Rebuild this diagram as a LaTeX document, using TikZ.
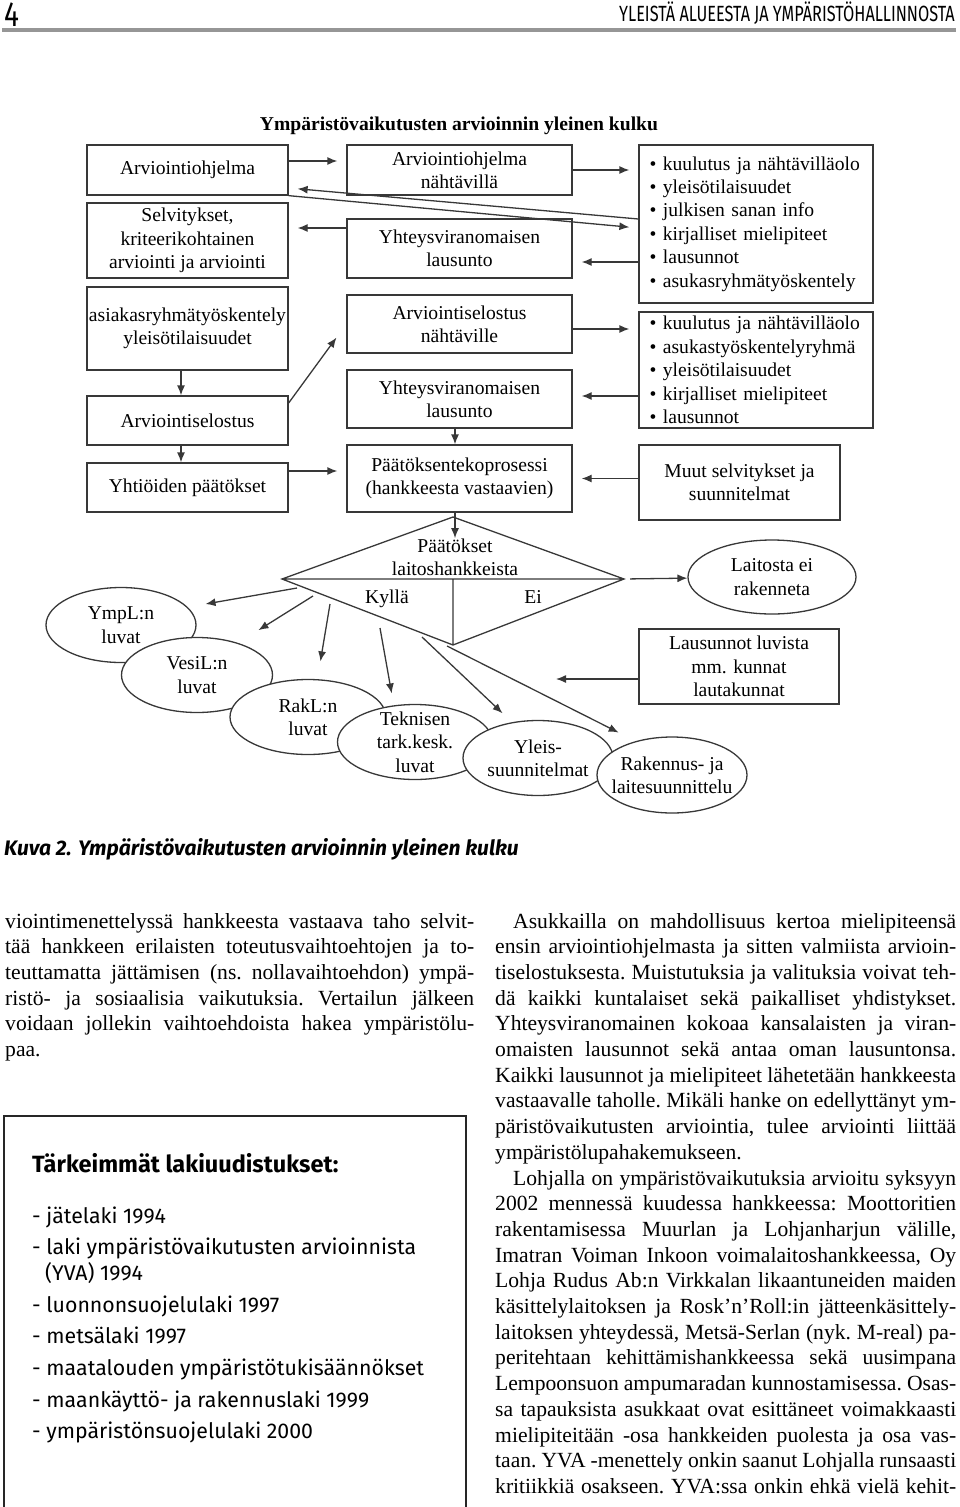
\documentclass[tikz,border=0pt]{standalone}
\usepackage{fontspec}
\setmainfont{Liberation Serif}
\setsansfont{Fira Sans}
\usepackage{graphicx}
\usetikzlibrary{arrows.meta,calc,shapes.geometric,positioning}
\definecolor{linecol}{gray}{0.22}
\definecolor{rulecol}{RGB}{150,150,150}
\newcommand\diagfont{\fontsize{19.6}{23.4}\selectfont}
\newcommand\bodyfont{\fontsize{21.6}{25.7}\selectfont\frenchspacing}
\newcommand\jline[1]{\hbox to\linewidth{#1}}
\tikzset{
  box/.style={draw=linecol, line width=1.3pt, rectangle, inner sep=0pt, align=center, font=\diagfont},
  oval/.style={draw=linecol, line width=1.3pt, ellipse, fill=white, inner sep=0pt},
  arr/.style={draw=linecol, line width=1.3pt, -{Latex[length=10pt,width=8pt]}},
  lbl/.style={inner sep=0pt, align=center, font=\diagfont},
}
\begin{document}
\begin{tikzpicture}[x=1pt,y=-1pt]
\useasboundingbox (0,0) rectangle (960,1507);

% page header
\node[anchor=base west, inner sep=0pt, font=\sffamily] (pagenum) at (4,26) {\scalebox{0.8}[1]{\fontsize{35}{35}\selectfont 4}};
\node[anchor=base east, inner sep=0pt, font=\sffamily] (runhead) at (955,21) {\scalebox{0.74}[1]{\fontsize{22}{22}\selectfont YLEISTÄ ALUEESTA JA YMPÄRISTÖHALLINNOSTA}};
\coordinate (ruleL) at (2,30);
\coordinate (ruleR) at (956,30);
\draw[draw=rulecol, line width=4pt] (ruleL) -- (ruleR);

% diagram
\node[lbl, font=\diagfont\bfseries] (title) at (459,126) {Ympäristövaikutusten arvioinnin yleinen kulku};

\node[box, minimum width=201pt, minimum height=50pt] (ohj) at (187.5,170) {Arviointiohjelma};
\node[box, minimum width=201pt, minimum height=75pt] (selv) at (187.5,240.5) {Selvitykset,\\kriteerikohtainen\\arviointi ja arviointi};
\node[box, minimum width=201pt, minimum height=83pt] (asiak) at (187.5,328.5) {asiakasryhmätyöskentely\\yleisötilaisuudet};
\node[box, minimum width=201pt, minimum height=49pt] (selos) at (187.5,420.5) {Arviointiselostus};
\node[box, minimum width=201pt, minimum height=49pt] (yhtio) at (187.5,487.5) {Yhtiöiden päätökset};

\node[box, minimum width=225pt, minimum height=50pt] (ohjnah) at (459.5,170) {Arviointiohjelma\\nähtävillä};
\node[box, minimum width=225pt, minimum height=59pt] (yhtA) at (459.5,248.5) {Yhteysviranomaisen\\lausunto};
\node[box, minimum width=225pt, minimum height=58pt] (selnah) at (459.5,324) {Arviointiselostus\\nähtäville};
\node[box, minimum width=225pt, minimum height=58pt] (yhtB) at (459.5,399) {Yhteysviranomaisen\\lausunto};
\node[box, minimum width=225pt, minimum height=67pt] (paatos) at (459.5,478.5) {Päätöksentekoprosessi\\(hankkeesta vastaavien)};

\node[box, minimum width=234pt, minimum height=158pt, text width=213pt, align=left] (osall1) at (756,224) {• kuulutus ja nähtävilläolo\\• yleisötilaisuudet\\• julkisen sanan info\\• kirjalliset mielipiteet\\• lausunnot\\• asukasryhmätyöskentely};
\node[box, minimum width=234pt, minimum height=116pt, text width=213pt, align=left] (osall2) at (756,370) {• kuulutus ja nähtävilläolo\\• asukastyöskentelyryhmä\\• yleisötilaisuudet\\• kirjalliset mielipiteet\\• lausunnot};
\node[box, minimum width=201pt, minimum height=75pt] (muut) at (739.5,482.5) {Muut selvitykset ja\\suunnitelmat};

\draw[arr, shorten >=9pt] (ohj.east |- 0,161) -- (ohjnah.west |- 0,161);
\draw[arr, shorten >=9pt] (ohjnah.east) -- (osall1.west |- ohjnah.east);
\draw[arr, shorten >=9pt] (ohj.south east) -- (osall1.west |- 0,228);
\draw[arr, shorten >=9pt] (osall1.west |- 0,219) -- (ohj.east |- 0,188);
\draw[arr, shorten >=9pt] (yhtA.west |- 0,228) -- (selv.east |- 0,228);
\draw[arr, shorten >=9pt] (osall1.west |- 0,262) -- (yhtA.east |- 0,262);
\draw[arr] (asiak.south -| 181,0) -- (selos.north -| 181,0);
\draw[arr] (selos.south -| 181,0) -- (yhtio.north -| 181,0);
\draw[arr, shorten >=16.8pt] (selos.east |- 0,403) -- (selnah.west);
\draw[arr, shorten >=9pt] (yhtio.east |- 0,471) -- (paatos.west |- 0,471);
\draw[arr, shorten >=9pt] (selnah.east |- 0,329) -- (osall2.west |- 0,329);
\draw[arr, shorten >=9pt] (osall2.west |- 0,396) -- (yhtB.east |- 0,396);
\draw[arr] (yhtB.south -| 455,0) -- (paatos.north -| 455,0);
\draw[arr, shorten >=9pt] (muut.west |- paatos.east) -- (paatos.east);

% decision diamond
\coordinate (dT) at (453,517);
\coordinate (dL) at (282,579);
\coordinate (dR) at (624,579);
\coordinate (dB) at (453,645);
\coordinate (dM) at (453,579);
\draw[linecol, line width=1.3pt] (dT) -- (dR) -- (dB) -- (dL) -- cycle (dL) -- (dR) (dM) -- (dB);
\node[lbl, anchor=base] (dec1) at (455,552) {Päätökset};
\node[lbl, anchor=base] (dec2) at (455,575) {laitoshankkeista};
\node[lbl, anchor=base] (kylla) at (387,603) {Kyllä};
\node[lbl, anchor=base] (ei) at (533,603) {Ei};
\draw[arr] (paatos.south -| dec1.north) -- (dec1.north);

\node[oval, minimum width=168pt, minimum height=74pt] (eiraken) at (772,577) {};
\node[lbl] (eirakenT) at (eiraken) {Laitosta ei\\rakenneta};
\draw[arr, shorten <=6pt] (dR) -- (eiraken);

\node[box, minimum width=200pt, minimum height=75pt] (laus) at (739,666.5) {Lausunnot luvista\\mm. kunnat\\lautakunnat};
\coordinate (lausTip) at (556,679);
\draw[arr] (laus.west |- lausTip) -- (lausTip);

% permits and plans
\node[oval, minimum width=150pt, minimum height=75pt] (ympl) at (121,625) {};
\node[lbl] (ymplT) at (ympl) {YmpL:n\\luvat};
\node[oval, minimum width=151pt, minimum height=75pt] (vesil) at (197,675) {};
\node[lbl] (vesilT) at (vesil) {VesiL:n\\luvat};
\node[oval, minimum width=156pt, minimum height=75pt] (rakl) at (308,717) {};
\node[lbl] (raklT) at (rakl) {RakL:n\\luvat};
\node[oval, minimum width=155pt, minimum height=75pt] (tekn) at (415,742) {};
\node[lbl] (teknT) at (tekn) {Teknisen\\tark.kesk.\\luvat};
\node[oval, minimum width=150pt, minimum height=75pt] (yleis) at (538,758) {};
\node[lbl] (yleisT) at (yleis) {Yleis-\\suunnitelmat};
\node[oval, minimum width=150pt, minimum height=76pt] (raksuun) at (672,775) {};
\node[lbl] (raksuunT) at (raksuun) {Rakennus- ja\\laitesuunnittelu};

\coordinate (k1) at (297,588);
\coordinate (k2) at (313,596);
\coordinate (k3) at (330,604);
\coordinate (k4) at (380,628);
\coordinate (k5) at (422,637);
\coordinate (k6) at (447,646);
\draw[arr, shorten >=18pt] (k1) -- (ympl.15);
\draw[arr, shorten >=24pt] (k2) -- (vesil.38);
\draw[arr, shorten >=18pt] (k3) -- (rakl.76);
\draw[arr, shorten >=12pt] (k4) -- (tekn.120);
\draw[arr, shorten >=13pt] (k5) -- (yleis.126);
\draw[arr, shorten >=19pt] (k6) -- (raksuun.137);

% caption
\node[anchor=base west, inner sep=0pt, font=\sffamily\itshape\bfseries\fontsize{21}{24}\selectfont] (caption) at (4,855) {Kuva 2. Ympäristövaikutusten arvioinnin yleinen kulku};

% body text
\node[anchor=base west, inner sep=0pt] (leftcol) at (5,928) {\parbox[t]{469pt}{\bodyfont
\jline{viointimenettelyssä hankkeesta vastaava taho selvit-}
\jline{tää hankkeen erilaisten toteutusvaihtoehtojen ja to-}
\jline{teuttamatta jättämisen (ns. nollavaihtoehdon) ympä-}
\jline{ristö- ja sosiaalisia vaikutuksia. Vertailun jälkeen}
\jline{voidaan jollekin vaihtoehdoista hakea ympäristölu-}
\hbox{paa.}}};

\node[anchor=base west, inner sep=0pt] (rightcol) at (495,928) {\parbox[t]{461pt}{\bodyfont
\jline{\hspace{18pt}Asukkailla on mahdollisuus kertoa mielipiteensä}
\jline{ensin arviointiohjelmasta ja sitten valmiista arvioin-}
\jline{tiselostuksesta. Muistutuksia ja valituksia voivat teh-}
\jline{dä kaikki kuntalaiset sekä paikalliset yhdistykset.}
\jline{Yhteysviranomainen kokoaa kansalaisten ja viran-}
\jline{omaisten lausunnot sekä antaa oman lausuntonsa.}
\jline{Kaikki lausunnot ja mielipiteet lähetetään hankkeesta}
\jline{vastaavalle taholle. Mikäli hanke on edellyttänyt ym-}
\jline{päristövaikutusten arviointia, tulee arviointi liittää}
\hbox{ympäristölupahakemukseen.}
\jline{\hspace{18pt}Lohjalla on ympäristövaikutuksia arvioitu syksyyn}
\jline{2002 mennessä kuudessa hankkeessa: Moottoritien}
\jline{rakentamisessa Muurlan ja Lohjanharjun välille,}
\jline{Imatran Voiman Inkoon voimalaitoshankkeessa, Oy}
\jline{Lohja Rudus Ab:n Virkkalan likaantuneiden maiden}
\jline{käsittelylaitoksen ja Rosk’n’Roll:in jätteenkäsittely-}
\jline{laitoksen yhteydessä, Metsä-Serlan (nyk. M-real) pa-}
\jline{peritehtaan kehittämishankkeessa sekä uusimpana}
\jline{Lempoonsuon ampumaradan kunnostamisessa. Osas-}
\jline{sa tapauksista asukkaat ovat esittäneet voimakkaasti}
\jline{mielipiteitään -osa hankkeiden puolesta ja osa vas-}
\jline{taan. YVA -menettely onkin saanut Lohjalla runsaasti}
\jline{kritiikkiä osakseen. YVA:ssa onkin ehkä vielä kehit-}}};

% law box
\draw[black!85, line width=1.6pt] (4,1515) -- (4,1116) -- (466,1116) -- (466,1515);
\node[anchor=base west, inner sep=0pt, font=\sffamily\bfseries\fontsize{23.5}{26}\selectfont] (lawtitle) at (32,1172) {Tärkeimmät lakiuudistukset:};
\node[anchor=base west, inner sep=0pt] (lawlist) at (32,1223) {\parbox[t]{430pt}{\sffamily\fontsize{21.3}{26}\selectfont\raggedright\setlength{\parskip}{5.6pt}\setlength{\parindent}{0pt}
- jätelaki 1994\par
- laki ympäristövaikutusten arvioinnista\\\hspace*{13pt}(YVA) 1994\par
- luonnonsuojelulaki 1997\par
- metsälaki 1997\par
- maatalouden ympäristötukisäännökset\par
- maankäyttö- ja rakennuslaki 1999\par
- ympäristönsuojelulaki 2000}};
\end{tikzpicture}
\end{document}
